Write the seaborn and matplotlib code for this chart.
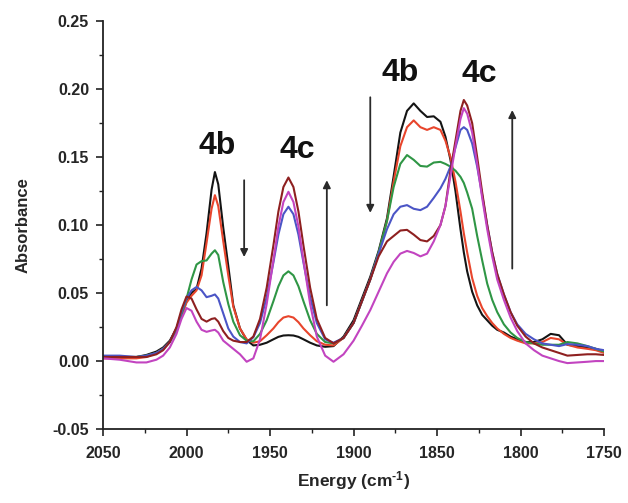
import pandas as pd
import matplotlib
matplotlib.use("Agg")
import matplotlib.pyplot as plt
from matplotlib.ticker import MultipleLocator, FormatStrFormatter
import seaborn as sns

# wavenumber grid (cm-1)
energy = [
    2050, 2040, 2030, 2024, 2018,
    2014, 2010, 2006, 2003, 2000,
    1997, 1994, 1991, 1988, 1985,
    1983, 1981, 1978, 1975, 1972,
    1968, 1964, 1960, 1956, 1952,
    1948, 1945, 1942, 1939, 1936,
    1933, 1930, 1926, 1922, 1917,
    1912, 1906, 1900, 1895, 1890,
    1885, 1880, 1876, 1872, 1868,
    1864, 1860, 1856, 1852, 1848,
    1845, 1842, 1839, 1836, 1834,
    1832, 1829, 1826, 1823, 1820,
    1817, 1814, 1810, 1806, 1802,
    1797, 1792, 1787, 1782, 1777,
    1772, 1766, 1760, 1755, 1750,
]

black = [
    .003, .003, .003, .0045, .007,
    .010, .015, .024, .034, .044,
    .050, .053, .068, .094, .126,
    .139, .130, .098, .070, .041,
    .024, .0155, .0115, .012, .0135,
    .016, .0178, .0188, .019, .0188,
    .0178, .016, .0135, .0115, .0105,
    .011, .018, .030, .046, .062,
    .081, .105, .136, .168, .184,
    .1895, .184, .1795, .180, .176,
    .165, .148, .125, .097, .080,
    .066, .051, .041, .034, .030,
    .026, .023, .021, .018, .016,
    .014, .014, .016, .020, .019,
    .012, .011, .010, .009, .007,
]

red = [
    .002, .002, .002, .003, .006,
    .009, .014, .023, .033, .043,
    .048, .052, .063, .087, .112,
    .122, .114, .088, .063, .040,
    .024, .016, .0135, .0146, .019,
    .024, .0286, .032, .033, .032,
    .0286, .024, .019, .0146, .012,
    .0115, .017, .028, .044, .060,
    .079, .103, .132, .158, .172,
    .177, .172, .170, .172, .170,
    .162, .150, .132, .110, .094,
    .080, .061, .048, .039, .033,
    .028, .024, .020, .017, .015,
    .013, .013, .014, .017, .016,
    .012, .010, .009, .008, .006,
]

green = [
    .003, .003, .003, .004, .006,
    .009, .014, .023, .034, .046,
    .060, .071, .0735, .074, .079,
    .0815, .078, .058, .042, .029,
    .019, .015, .0145, .020, .030,
    .044, .055, .063, .066, .063,
    .055, .044, .030, .020, .014,
    .013, .017, .028, .044, .060,
    .080, .103, .128, .145, .1515,
    .148, .1435, .143, .146, .1465,
    .145, .143, .140, .1355, .131,
    .124, .112, .092, .074, .057,
    .045, .036, .027, .021, .017,
    .014, .013, .012, .012, .012,
    .014, .013, .011, .009, .007,
]

blue = [
    .004, .004, .003, .004, .006,
    .009, .014, .024, .036, .046,
    .052, .0545, .052, .047, .048,
    .049, .046, .035, .024, .018,
    .014, .013, .0175, .028, .047,
    .0725, .093, .108, .1135, .108,
    .093, .0725, .047, .028, .016,
    .0135, .017, .028, .044, .060,
    .079, .097, .108, .1135, .1147,
    .112, .111, .1135, .120, .127,
    .134, .143, .157, .170, .172,
    .170, .160, .143, .122, .100,
    .080, .064, .049, .036, .027,
    .020, .016, .013, .012, .011,
    .0125, .012, .011, .009, .008,
]

darkred = [
    .003, .003, .003, .003, .005,
    .008, .014, .025, .038, .0475,
    .046, .038, .031, .029, .031,
    .0315, .029, .022, .017, .015,
    .014, .014, .018, .031, .054,
    .085, .110, .128, .135, .128,
    .110, .085, .054, .031, .017,
    .013, .017, .028, .044, .060,
    .077, .088, .092, .096, .0965,
    .093, .089, .088, .092, .100,
    .114, .140, .162, .184, .192,
    .188, .175, .150, .124, .100,
    .080, .064, .049, .036, .026,
    .018, .013, .010, .008, .006,
    .004, .0045, .005, .005, .0045,
]

magenta = [
    .002, .001, -.001, -.001, .001,
    .004, .010, .020, .031, .039,
    .037, .029, .023, .0215, .0225,
    .023, .021, .015, .012, .009,
    .005, -.0005, .002, .016, .042,
    .074, .099, .117, .1245, .117,
    .099, .074, .042, .018, .004,
    -.0005, .005, .015, .026, .0375,
    .051, .0645, .073, .079, .081,
    .0795, .077, .079, .088, .100,
    .114, .136, .158, .178, .186,
    .182, .168, .145, .120, .097,
    .077, .060, .045, .032, .022,
    .013, .008, .004, .002, .000,
    -.0015, -.001, -.0005, .000, .000,
]

series = {
    "black": black,
    "red": red,
    "green": green,
    "blue": blue,
    "darkred": darkred,
    "magenta": magenta,
}
palette = {
    "black": "#141414",
    "red": "#e8452c",
    "green": "#2f9645",
    "blue": "#4b55c6",
    "darkred": "#8e2020",
    "magenta": "#c244c0",
}

# label text: (x, y, text)
labels = [(1981.5, 0.1585, "4b"), (1933.5, 0.1555, "4c"),
          (1872, 0.2118, "4b"), (1825, 0.2110, "4c")]
# arrows: (x, y_start, y_end)
arrows = [(1965.5, 0.133, 0.0765), (1916, 0.041, 0.133),
          (1890, 0.194, 0.109), (1805, 0.068, 0.1846)]


def main():
    df = pd.concat(
        [pd.DataFrame({"energy": energy, "absorbance": vals, "spectrum": name})
         for name, vals in series.items()],
        ignore_index=True,
    )

    sns.set_style("ticks")
    plt.rcParams["font.family"] = ["Liberation Sans", "DejaVu Sans"]
    plt.rcParams["axes.unicode_minus"] = False
    plt.rcParams["mathtext.fontset"] = "custom"
    plt.rcParams["mathtext.rm"] = "Liberation Sans:bold"
    plt.rcParams["mathtext.it"] = "Liberation Sans:bold"
    plt.rcParams["mathtext.bf"] = "Liberation Sans:bold"

    fig = plt.figure(figsize=(6.28, 5.03), dpi=100)
    ax = fig.add_axes([0.164, 0.147, 0.798, 0.811])

    sns.lineplot(data=df, x="energy", y="absorbance", hue="spectrum",
                 palette=palette, estimator=None, sort=False, legend=False,
                 linewidth=1.5, ax=ax)

    ax.set_xlim(2050, 1750)
    ax.set_ylim(-0.05, 0.25)
    ax.xaxis.set_major_locator(MultipleLocator(50))
    ax.xaxis.set_minor_locator(MultipleLocator(25))
    ax.yaxis.set_major_locator(MultipleLocator(0.05))
    ax.yaxis.set_minor_locator(MultipleLocator(0.025))
    ax.yaxis.set_major_formatter(FormatStrFormatter("%.2f"))

    sns.despine(ax=ax)
    for side in ["left", "bottom"]:
        ax.spines[side].set_linewidth(1.3)
        ax.spines[side].set_color("#222222")
    ax.tick_params(which="major", direction="out", length=5, width=1.2,
                   labelsize=11.5, color="#222222")
    ax.tick_params(which="minor", direction="out", length=3, width=1.0,
                   color="#222222")
    ax.tick_params(axis="x", which="major", pad=7)
    ax.tick_params(axis="y", which="major", pad=5)
    for lab in ax.get_xticklabels() + ax.get_yticklabels():
        lab.set_fontweight("bold")

    ax.set_xlabel(r"Energy (cm$^{\text{-1}}$)", fontsize=12.5,
                  fontweight="bold", labelpad=6)
    ax.set_ylabel("Absorbance", fontsize=12, fontweight="bold", labelpad=16)

    for x, y, txt in labels:
        ax.text(x, y, txt, ha="center", va="center", fontsize=23,
                fontweight="bold", color="#111111")

    for x, y0, y1 in arrows:
        ax.annotate("", xy=(x, y1), xytext=(x, y0),
                    arrowprops=dict(arrowstyle="-|>", color="#2a2a2a",
                                    lw=1.3, mutation_scale=11,
                                    shrinkA=0, shrinkB=0))

    fig.savefig("out.png", dpi=100, facecolor="white")
    plt.close(fig)


if __name__ == "__main__":
    main()
